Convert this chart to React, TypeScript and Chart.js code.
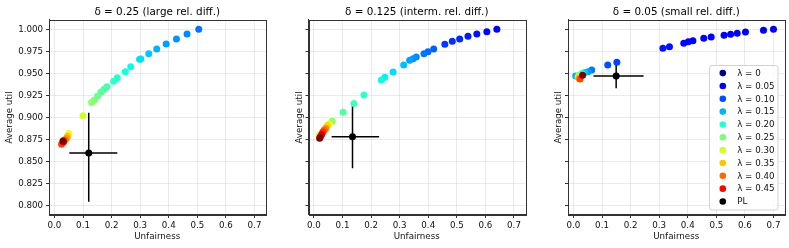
import React, { useEffect, useRef } from "react";
import { Chart, registerables } from "chart.js";

Chart.register(...registerables);

// ---------- axis settings ----------
const X_TICKS = [0.0, 0.1, 0.2, 0.3, 0.4, 0.5, 0.6, 0.7];
const Y_TICKS = [0.8, 0.825, 0.85, 0.875, 0.9, 0.925, 0.95, 0.975, 1.0];
const X_MIN = -0.019;
const X_MAX = 0.7385;
const Y_MIN = 0.7898;
const Y_MAX = 1.0105;

const TITLES = [
  "δ = 0.25 (large rel. diff.)",
  "δ = 0.125 (interm. rel. diff.)",
  "δ = 0.05 (small rel. diff.)",
];
const X_LABEL = "Unfairness";
const Y_LABEL = "Average util";

// ---------- panel 1 (delta = 0.25) ----------
const P1_X = [0.505, 0.464, 0.427, 0.391, 0.358, 0.330, 0.302, 0.298, 0.267, 0.248, 0.220, 0.207, 0.184, 0.174, 0.163, 0.151, 0.139, 0.130, 0.100, 0.050, 0.046, 0.043, 0.038, 0.033, 0.025, 0.031, 0.031, 0.030];
const P1_Y = [1.000, 0.9947, 0.989, 0.9834, 0.9777, 0.9724, 0.9664, 0.966, 0.9576, 0.952, 0.9452, 0.9411, 0.935, 0.932, 0.929, 0.9245, 0.9196, 0.917, 0.902, 0.882, 0.879, 0.877, 0.875, 0.874, 0.870, 0.872, 0.873, 0.8735];
const P1_LAMBDA = [0.12, 0.13, 0.135, 0.14, 0.15, 0.16, 0.17, 0.172, 0.185, 0.19, 0.20, 0.205, 0.215, 0.22, 0.23, 0.24, 0.25, 0.26, 0.30, 0.32, 0.35, 0.37, 0.39, 0.41, 0.42, 0.44, 0.47, 0.50];

// ---------- panel 2 (delta = 0.125) ----------
const P2_X = [0.640, 0.605, 0.570, 0.539, 0.510, 0.484, 0.458, 0.419, 0.399, 0.385, 0.358, 0.347, 0.335, 0.314, 0.277, 0.248, 0.236, 0.175, 0.140, 0.102, 0.064, 0.018, 0.053, 0.047, 0.042, 0.036, 0.031, 0.027, 0.022, 0.020];
const P2_Y = [1.000, 0.9973, 0.9947, 0.992, 0.989, 0.9864, 0.983, 0.9777, 0.9746, 0.9724, 0.9686, 0.9667, 0.965, 0.9596, 0.9516, 0.9456, 0.9426, 0.9256, 0.916, 0.906, 0.896, 0.880, 0.8928, 0.891, 0.888, 0.886, 0.8838, 0.881, 0.878, 0.8766];
const P2_LAMBDA = [0.06, 0.065, 0.07, 0.075, 0.08, 0.085, 0.09, 0.11, 0.115, 0.12, 0.13, 0.135, 0.14, 0.155, 0.17, 0.18, 0.185, 0.205, 0.215, 0.225, 0.26, 0.30, 0.32, 0.34, 0.38, 0.40, 0.43, 0.46, 0.48, 0.50];

// ---------- panel 3 (delta = 0.05) ----------
const P3_X = [0.700, 0.665, 0.602, 0.573, 0.550, 0.527, 0.482, 0.456, 0.418, 0.402, 0.386, 0.336, 0.313, 0.152, 0.120, 0.064, 0.051, 0.008, 0.040, 0.030, 0.019, 0.016, 0.019, 0.023, 0.032];
const P3_Y = [1.000, 0.9989, 0.997, 0.9955, 0.9943, 0.9932, 0.9913, 0.9898, 0.9871, 0.986, 0.9842, 0.9803, 0.9785, 0.9626, 0.9596, 0.954, 0.952, 0.947, 0.951, 0.950, 0.948, 0.946, 0.9447, 0.9437, 0.948];
const P3_LAMBDA = [0.05, 0.05, 0.052, 0.054, 0.055, 0.056, 0.058, 0.06, 0.062, 0.064, 0.066, 0.07, 0.072, 0.095, 0.10, 0.12, 0.14, 0.145, 0.16, 0.20, 0.25, 0.30, 0.36, 0.42, 0.50];

// ---------- PL (with error bars), one per panel ----------
const PL_X = [0.120, 0.135, 0.1495];
const PL_Y = [0.860, 0.8784, 0.947];
const PL_X_LO = [0.052, 0.062, 0.070];
const PL_X_HI = [0.220, 0.228, 0.2455];
const PL_Y_LO = [0.8048, 0.8426, 0.9332];
const PL_Y_HI = [0.9055, 0.918, 0.9643];

// ---------- legend ----------
const LEGEND_LAMBDAS = [0, 0.05, 0.1, 0.15, 0.2, 0.25, 0.3, 0.35, 0.4, 0.45];
const LEGEND_PL = "PL";
const LAMBDA_MAX = 0.5;

// ---------- jet colormap ----------
const JET_R: number[][] = [[0, 0], [0.35, 0], [0.66, 1], [0.89, 1], [1, 0.5]];
const JET_G: number[][] = [[0, 0], [0.125, 0], [0.375, 1], [0.64, 1], [0.91, 0], [1, 0]];
const JET_B: number[][] = [[0, 0.5], [0.11, 1], [0.34, 1], [0.65, 0], [1, 0]];

function interp(t: number, pts: number[][]) {
  if (t <= pts[0][0]) return pts[0][1];
  for (let i = 1; i < pts.length; i++) {
    if (t <= pts[i][0]) {
      const [x0, y0] = pts[i - 1];
      const [x1, y1] = pts[i];
      return y0 + ((t - x0) / (x1 - x0)) * (y1 - y0);
    }
  }
  return pts[pts.length - 1][1];
}
function jet(lambda: number) {
  const t = Math.max(0, Math.min(1, lambda / LAMBDA_MAX));
  const r = Math.round(interp(t, JET_R) * 255);
  const g = Math.round(interp(t, JET_G) * 255);
  const b = Math.round(interp(t, JET_B) * 255);
  return `rgb(${r},${g},${b})`;
}

const FONT = "'DejaVu Sans', sans-serif";
const PANELS = [
  { x: P1_X, y: P1_Y, lam: P1_LAMBDA, padL: 0, padR: 523.5, showY: true, yTitlePad: 4.8, legend: false },
  { x: P2_X, y: P2_Y, lam: P2_LAMBDA, padL: 259.5, padR: 264, showY: false, yTitlePad: 35.3, legend: false },
  { x: P3_X, y: P3_Y, lam: P3_LAMBDA, padL: 519, padR: 4.5, showY: false, yTitlePad: 34.8, legend: true },
];

const framePlugin = {
  id: "frame",
  beforeDatasetsDraw(chart: any) {
    const { ctx, chartArea: a } = chart;
    ctx.save();
    ctx.strokeStyle = "#333";
    ctx.lineWidth = 1;
    ctx.strokeRect(Math.round(a.left) + 0.5, Math.round(a.top) + 0.5, Math.round(a.right - a.left), Math.round(a.bottom - a.top));
    ctx.restore();
  },
};

function errorBarPlugin(i: number) {
  return {
    id: "errorbars" + i,
    beforeDatasetDraw(chart: any, args: any) {
      if (args.index !== 1) return;
      const xs = chart.scales.x;
      const ys = chart.scales.y;
      const ctx = chart.ctx;
      const cx = xs.getPixelForValue(PL_X[i]);
      const cy = ys.getPixelForValue(PL_Y[i]);
      ctx.save();
      ctx.strokeStyle = "#000";
      ctx.lineWidth = 1.5;
      ctx.beginPath();
      ctx.moveTo(xs.getPixelForValue(PL_X_LO[i]), cy);
      ctx.lineTo(xs.getPixelForValue(PL_X_HI[i]), cy);
      ctx.moveTo(cx, ys.getPixelForValue(PL_Y_LO[i]));
      ctx.lineTo(cx, ys.getPixelForValue(PL_Y_HI[i]));
      ctx.stroke();
      ctx.restore();
    },
  };
}

const legendPlugin = {
  id: "customLegend",
  afterDatasetsDraw(chart: any) {
    const { ctx, chartArea: a } = chart;
    const w = 68.5;
    const h = 144.5;
    const x0 = a.right - 6.5 - w;
    const y0 = a.bottom - 5 - h;
    ctx.save();
    ctx.fillStyle = "rgba(255,255,255,0.85)";
    ctx.strokeStyle = "rgba(204,204,204,0.9)";
    ctx.lineWidth = 1;
    ctx.beginPath();
    const r = 2.5;
    ctx.moveTo(x0 + r, y0);
    ctx.arcTo(x0 + w, y0, x0 + w, y0 + h, r);
    ctx.arcTo(x0 + w, y0 + h, x0, y0 + h, r);
    ctx.arcTo(x0, y0 + h, x0, y0, r);
    ctx.arcTo(x0, y0, x0 + w, y0, r);
    ctx.closePath();
    ctx.fill();
    ctx.stroke();
    const labels = LEGEND_LAMBDAS.map((v) => ({ text: "λ = " + (v === 0 ? "0" : v.toFixed(2)), color: jet(v) }));
    labels.push({ text: LEGEND_PL, color: "#000" });
    ctx.font = `8.7px ${FONT}`;
    ctx.textBaseline = "middle";
    ctx.textAlign = "left";
    labels.forEach((l, k) => {
      const cy = y0 + 7.6 + k * 12.84;
      ctx.fillStyle = l.color;
      ctx.beginPath();
      ctx.arc(x0 + 13.3, cy, 3.3, 0, Math.PI * 2);
      ctx.fill();
      ctx.fillStyle = "#111";
      ctx.fillText(l.text, x0 + 27.7, cy + 0.5);
    });
    ctx.restore();
  },
};

function makeConfig(i: number): any {
  const p = PANELS[i];
  const plugins: any[] = [framePlugin, errorBarPlugin(i)];
  if (p.legend) plugins.push(legendPlugin);
  return {
    type: "scatter",
    data: {
      datasets: [
        {
          label: "points",
          data: p.x.map((v, k) => ({ x: v, y: p.y[k] })),
          pointBackgroundColor: p.lam.map((l) => jet(l)),
          pointBorderWidth: 0,
          pointRadius: 3.5,
          pointHoverRadius: 3.5,
        },
        {
          label: LEGEND_PL,
          data: [{ x: PL_X[i], y: PL_Y[i] }],
          pointBackgroundColor: "#000",
          pointBorderWidth: 0,
          pointRadius: 3.5,
          pointHoverRadius: 3.5,
        },
      ],
    },
    options: {
      responsive: false,
      animation: false,
      events: [],
      devicePixelRatio: 1,
      layout: { padding: { left: p.padL, right: p.padR, top: 0, bottom: 0 } },
      plugins: {
        legend: { display: false },
        tooltip: { enabled: false },
        title: {
          display: true,
          text: TITLES[i],
          fullSize: false,
          color: "#000",
          font: { family: FONT, size: 10.4, weight: "normal" },
          padding: { top: 6, bottom: 1.5 },
        },
      },
      scales: {
        x: {
          type: "linear",
          min: X_MIN,
          max: X_MAX,
          afterBuildTicks: (s: any) => {
            s.ticks = X_TICKS.map((v) => ({ value: v }));
          },
          afterFit: (s: any) => {
            s.height = 33;
          },
          ticks: {
            callback: (v: number) => v.toFixed(1),
            color: "#111",
            font: { family: FONT, size: 8.7 },
            padding: 3,
            maxRotation: 0,
            autoSkip: false,
          },
          grid: { color: "rgba(0,0,0,0.08)", tickColor: "#333", tickLength: 3, lineWidth: 1 },
          border: { color: "#333", width: 1 },
          title: {
            display: true,
            text: X_LABEL,
            color: "#111",
            font: { family: FONT, size: 8.7 },
            padding: { top: 0, bottom: 5.8 },
          },
        },
        y: {
          type: "linear",
          min: Y_MIN,
          max: Y_MAX,
          afterBuildTicks: (s: any) => {
            s.ticks = Y_TICKS.map((v) => ({ value: v }));
          },
          afterFit: (s: any) => {
            s.width = 49;
          },
          ticks: {
            callback: (v: number) => (p.showY ? v.toFixed(3) : ""),
            color: "#111",
            font: { family: FONT, size: 8.7 },
            padding: 3,
            autoSkip: false,
          },
          grid: { color: "rgba(0,0,0,0.08)", tickColor: "#333", tickLength: 3, lineWidth: 1 },
          border: { color: "#333", width: 1 },
          title: {
            display: true,
            text: Y_LABEL,
            color: "#111",
            font: { family: FONT, size: 8.7 },
            padding: { top: p.yTitlePad, bottom: 0 },
          },
        },
      },
    },
    plugins,
  };
}

export default function App() {
  const r0 = useRef<HTMLCanvasElement | null>(null);
  const r1 = useRef<HTMLCanvasElement | null>(null);
  const r2 = useRef<HTMLCanvasElement | null>(null);
  useEffect(() => {
    const refs = [r0, r1, r2];
    const charts = refs.map((r, i) => new Chart(r.current as HTMLCanvasElement, makeConfig(i)));
    return () => charts.forEach((c) => c.destroy());
  }, []);
  const style: React.CSSProperties = { position: "absolute", left: 0, top: 0 };
  return (
    <div style={{ position: "absolute", left: 0, top: 0, width: 789, height: 248, background: "#fff" }}>
      <canvas ref={r0} width={789} height={248} style={style} />
      <canvas ref={r1} width={789} height={248} style={style} />
      <canvas ref={r2} width={789} height={248} style={style} />
    </div>
  );
}
